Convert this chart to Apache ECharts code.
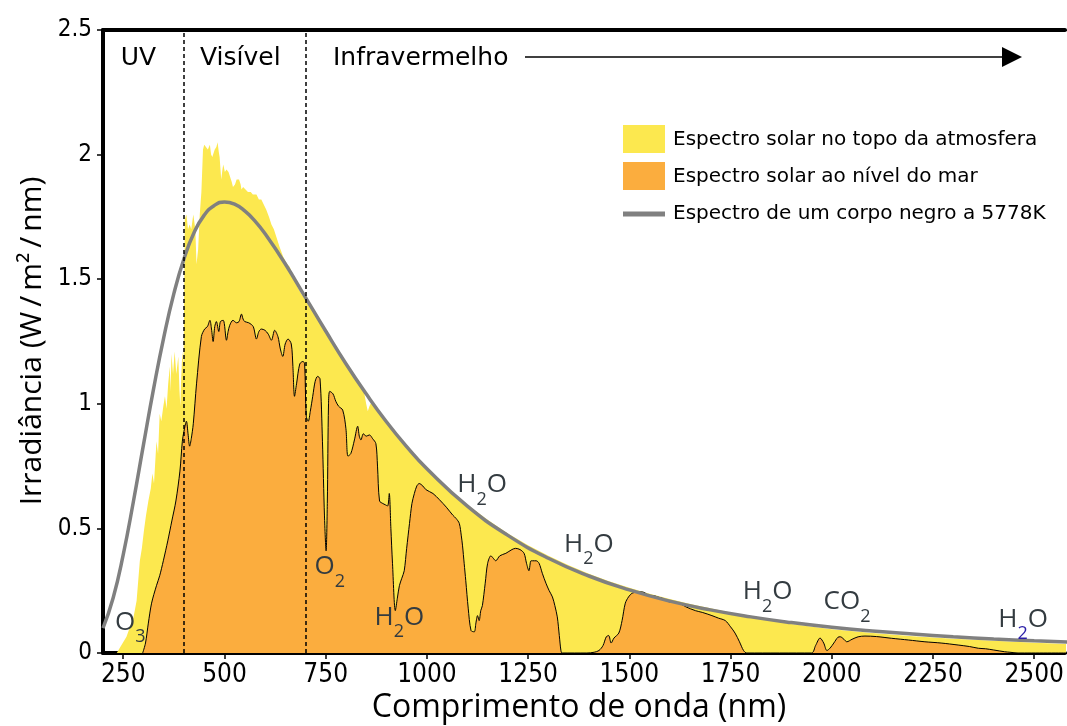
<!DOCTYPE html>
<html><head><meta charset="utf-8">
<script src="https://cdn.jsdelivr.net/npm/echarts@6/dist/echarts.min.js"></script>
<style>html,body{margin:0;padding:0;background:#fff}#c{width:1067px;height:726px}</style>
</head><body><div id="c"></div>
<script>
// ---------- data ----------
const xTicks = [250, 500, 750, 1000, 1250, 1500, 1750, 2000, 2250, 2500];
const seriesNames = ['Espectro solar no topo da atmosfera', 'Espectro solar ao nível do mar', 'Espectro de um corpo negro a 5778K'];
const regionBounds = [400, 700];
const regionNames = ['UV', 'Visível', 'Infravermelho'];

const topOfAtmosphere = [[234,0],[245,0.03],[258,0.065],[268,0.11],[275,0.14],[283,0.21],[291,0.37],[296,0.42],[301,0.49],[306,0.55],
[312,0.61],[318,0.66],[322,0.72],[326,0.68],[332,0.85],[336,0.80],[340,0.96],[344,0.93],[349,0.99],[353,1.03],
[357,0.98],[361,1.08],[365,1.15],[367,1.05],[369,1.20],[373,1.12],[377,1.21],[381,1.12],[386,1.19],[389,1.05],
[391,0.99],[393,1.10],[396,1.21],[399,1.15],[402,1.74],[406,1.76],[410,1.70],[414,1.72],[418,1.70],[423,1.76],
[428,1.70],[431,1.56],[435,1.62],[439,1.76],[443,1.85],[447,2.02],[450,2.04],[454,2.04],[459,2.02],[464,2.04],
[467,2.00],[470,1.99],[476,2.02],[480,2.03],[483,2.05],[486,2.01],[488,1.99],[492,1.90],[495,1.94],[497,1.96],
[501,1.93],[505,1.94],[510,1.93],[514,1.91],[518,1.89],[521,1.87],[526,1.88],[530,1.90],[536,1.90],[540,1.88],
[542,1.86],[546,1.87],[552,1.86],[558,1.85],[565,1.85],[570,1.84],[579,1.84],[585,1.82],[591,1.82],[597,1.80],
[603,1.78],[610,1.75],[616,1.72],[622,1.70],[628,1.67],[636,1.63],[645,1.59],[655,1.56],[661,1.55],[670,1.51],
[680,1.47],[690,1.44],[700,1.42],[725,1.36],[750,1.29],[775,1.225],[800,1.16],[825,1.10],[845,1.045],[850,1.00],
[854,0.97],[858,0.99],[864,1.01],[875,0.99],[900,0.928],[950,0.828],[1000,0.742],[1050,0.665],[1100,0.595],[1150,0.535],
[1200,0.48],[1250,0.432],[1300,0.39],[1350,0.352],[1400,0.318],[1450,0.288],[1500,0.262],[1550,0.238],[1600,0.217],[1650,0.197],
[1700,0.18],[1750,0.163],[1800,0.146],[1850,0.13],[1900,0.116],[2000,0.095],[2100,0.080],[2200,0.067],[2300,0.057],[2400,0.049],
[2500,0.041],[2580,0.036]];

const seaLevel = [[298,0],[305,0.04],[312,0.12],[320,0.20],[332,0.27],[340,0.31],[349,0.37],[360,0.45],[370,0.53],[380,0.61],
[390,0.73],[396,0.85],[400,0.89],[406,0.93],[410,0.88],[414,0.83],[418,0.86],[423,0.92],[431,1.08],[443,1.27],
[451,1.30],[458,1.31],[464,1.335],[468,1.30],[472,1.25],[476,1.31],[480,1.33],[486,1.29],[490,1.33],[497,1.335],
[505,1.255],[509,1.29],[513,1.315],[521,1.335],[530,1.325],[536,1.33],[542,1.36],[546,1.34],[550,1.33],[560,1.325],
[571,1.31],[579,1.26],[585,1.29],[591,1.30],[600,1.295],[608,1.28],[616,1.255],[624,1.295],[632,1.27],[638,1.22],
[644,1.19],[650,1.24],[657,1.26],[665,1.24],[669,1.15],[673,1.03],[678,1.08],[686,1.16],[694,1.17],[698,1.16],
[702,0.95],[707,0.93],[712,0.97],[718,1.03],[724,1.09],[730,1.11],[736,1.10],[742,0.85],[747,0.55],[751,0.41],
[754,0.60],[757,1.00],[760,1.05],[768,1.04],[775,1.01],[782,0.99],[792,0.975],[800,0.90],[805,0.79],[812,0.80],
[821,0.855],[829,0.91],[833,0.87],[837,0.855],[843,0.88],[850,0.87],[858,0.875],[866,0.86],[874,0.84],[878,0.75],
[883,0.61],[891,0.60],[897,0.595],[903,0.59],[907,0.64],[911,0.50],[915,0.36],[922,0.17],[927,0.22],[932,0.27],
[938,0.30],[944,0.33],[950,0.42],[957,0.52],[963,0.60],[969,0.64],[975,0.67],[981,0.68],[990,0.67],[998,0.655],
[1015,0.64],[1031,0.615],[1048,0.585],[1064,0.553],[1072,0.54],[1080,0.52],[1085,0.47],[1088,0.43],[1092,0.36],[1096,0.29],
[1102,0.18],[1109,0.09],[1117,0.085],[1121,0.12],[1125,0.15],[1129,0.13],[1133,0.17],[1137,0.19],[1144,0.28],[1150,0.36],
[1158,0.39],[1164,0.38],[1170,0.37],[1180,0.39],[1195,0.40],[1210,0.415],[1219,0.42],[1230,0.415],[1240,0.40],[1246,0.36],
[1252,0.33],[1257,0.37],[1261,0.37],[1270,0.37],[1277,0.36],[1285,0.32],[1294,0.28],[1302,0.25],[1310,0.225],[1316,0.19],
[1322,0.145],[1327,0.07],[1331,0.01],[1334,0],[1395,0],[1413,0.003],[1425,0.01],[1435,0.03],[1443,0.065],[1449,0.07],
[1455,0.04],[1462,0.06],[1474,0.08],[1482,0.13],[1490,0.20],[1498,0.225],[1507,0.24],[1520,0.245],[1532,0.245],[1540,0.24],
[1545,0.232],[1556,0.23],[1565,0.228],[1575,0.222],[1581,0.22],[1590,0.21],[1600,0.205],[1622,0.20],[1640,0.185],[1663,0.17],
[1680,0.163],[1704,0.15],[1720,0.14],[1737,0.13],[1750,0.105],[1761,0.08],[1772,0.045],[1782,0.01],[1790,0],[1950,0],
[1960,0.03],[1971,0.06],[1980,0.04],[1988,0.01],[1996,0.02],[2005,0.04],[2015,0.063],[2021,0.065],[2030,0.055],[2037,0.045],
[2050,0.055],[2065,0.065],[2082,0.068],[2110,0.066],[2148,0.059],[2190,0.052],[2230,0.045],[2270,0.04],[2312,0.032],[2340,0.026],
[2362,0.019],[2380,0.017],[2400,0.012],[2427,0.005],[2440,0.003],[2460,0],[2580,0]];

const blackBody = [[200,0.100],[225,0.221],[250,0.395],[275,0.607],[300,0.836],[325,1.061],[350,1.266],[375,1.442],[400,1.582],[425,1.687],
[450,1.757],[475,1.796],[500,1.810],[525,1.801],[550,1.774],[575,1.734],[600,1.683],[650,1.562],[700,1.427],[750,1.292],
[800,1.161],[850,1.040],[900,0.928],[950,0.828],[1000,0.739],[1100,0.589],[1200,0.472],[1300,0.380],[1400,0.309],[1500,0.253],
[1600,0.208],[1700,0.173],[1800,0.145],[1900,0.122],[2000,0.103],[2100,0.088],[2200,0.076],[2300,0.065],[2400,0.056],[2500,0.049],[2600,0.043]];

// absorption labels: [prefix, subscript, suffix, wavelength, irradiance at cap top, blue subscript]
const molecules = [
  ['O','3','',229.6,0.152,false],
  ['O','2','',722.6,0.373,false],
  ['H','2','O',870.5,0.172,false],
  ['H','2','O',1075,0.702,false],
  ['H','2','O',1338.8,0.465,false],
  ['H','2','O',1780,0.273,false],
  ['CO','2','',1979.6,0.233,false],
  ['H','2','O',2411,0.164,true]
];

// ---------- chart ----------
const TICKFONT = "'DejaVu Sans Condensed', 'DejaVu Sans', sans-serif";
const chart = echarts.init(document.getElementById('c'), null, {renderer: 'canvas'});
chart.setOption({
  animation: false,
  backgroundColor: '#ffffff',
  grid: {left: 103, right: 0, top: 30, bottom: 73},
  xAxis: [
    {
      type: 'value', min: 200, max: 2576, position: 'bottom', splitLine: {show: false},
      axisLine: {show: true, onZero: false, lineStyle: {color: '#000', width: 4}},
      axisTick: {show: true, customValues: xTicks, length: 6, lineStyle: {color: '#000', width: 1.5}},
      axisLabel: {customValues: xTicks, margin: 9, color: '#000', fontSize: 26, fontFamily: TICKFONT,
                  formatter: v => String(v)}
    },
    {
      type: 'value', min: 200, max: 2576, position: 'top', splitLine: {show: false},
      axisLine: {show: true, onZero: false, lineStyle: {color: '#000', width: 4}},
      axisTick: {show: false}, axisLabel: {show: false}
    }
  ],
  yAxis: {
    type: 'value', min: 0, max: 2.5, interval: 0.5, splitLine: {show: false},
    axisLine: {show: true, lineStyle: {color: '#000', width: 4}},
    axisTick: {show: true, length: 6, lineStyle: {color: '#000', width: 1.5}},
    axisLabel: {margin: 11, color: '#000', fontSize: 24, fontFamily: TICKFONT, formatter: v => String(v)}
  },
  series: [
    {name: seriesNames[0], type: 'line', data: topOfAtmosphere, symbol: 'none', silent: true, z: 1,
     lineStyle: {opacity: 0, width: 0}, areaStyle: {color: '#FCE84F', opacity: 1}},
    {name: seriesNames[1], type: 'line', data: seaLevel, symbol: 'none', silent: true, z: 2, smooth: 0.3,
     lineStyle: {color: '#000', width: 1}, areaStyle: {color: '#FBAD3E', opacity: 1}},
    {name: seriesNames[2], type: 'line', data: blackBody, symbol: 'none', silent: true, z: 4, smooth: true,
     lineStyle: {color: '#808080', width: 3.5},
     markLine: {silent: true, symbol: ['none', 'none'], label: {show: false},
       lineStyle: {color: '#000', type: [4, 3], width: 1.5},
       data: regionBounds.map(v => ({xAxis: v}))}}
  ]
});

// ---------- annotations ----------
const LABELFONT = "'Open Sans', 'Noto Sans', sans-serif";
const molRich = {
  m: {fontSize: 26, fontFamily: LABELFONT, fill: '#333b40', lineHeight: 30, verticalAlign: 'top'},
  s: {fontSize: 18, fontFamily: LABELFONT, fill: '#333b40', lineHeight: 18, padding: [19, 0, 0, 0], verticalAlign: 'top'},
  b: {fontSize: 18, fontFamily: LABELFONT, fill: '#2b1fa8', lineHeight: 18, padding: [19, 0, 0, 0], verticalAlign: 'top'}
};
const graphics = [];
molecules.forEach(m => {
  const p = chart.convertToPixel({xAxisIndex: 0, yAxisIndex: 0}, [m[3], m[4]]);
  let t = '{m|' + m[0] + '}{' + (m[5] ? 'b' : 's') + '|' + m[1] + '}';
  if (m[2]) t += '{m|' + m[2] + '}';
  graphics.push({type: 'text', x: p[0], y: p[1] - 6, z: 20, silent: true,
    style: {text: t, rich: molRich, align: 'left', verticalAlign: 'top'}});
});
// region labels
const REGFONT = "'DejaVu Sans', sans-serif";
graphics.push({type: 'text', x: 138.5, y: 58, z: 20, style: {text: regionNames[0], fontSize: 25, fontFamily: REGFONT, fill: '#000', align: 'center', verticalAlign: 'middle'}});
graphics.push({type: 'text', x: 200, y: 58, z: 20, style: {text: regionNames[1], fontSize: 25, fontFamily: REGFONT, fill: '#000', align: 'left', verticalAlign: 'middle'}});
graphics.push({type: 'text', x: 333, y: 58, z: 20, style: {text: regionNames[2], fontSize: 25, fontFamily: REGFONT, fill: '#000', align: 'left', verticalAlign: 'middle'}});
// arrow
graphics.push({type: 'line', z: 20, shape: {x1: 525, y1: 57, x2: 1006, y2: 57}, style: {stroke: '#000', lineWidth: 1.5}});
graphics.push({type: 'polygon', z: 20, shape: {points: [[1002, 47], [1022, 57], [1002, 67]]}, style: {fill: '#000'}});
// legend
graphics.push({type: 'rect', z: 20, shape: {x: 623, y: 125, width: 42, height: 28}, style: {fill: '#FCE84F'}});
graphics.push({type: 'rect', z: 20, shape: {x: 623, y: 162, width: 42, height: 28}, style: {fill: '#FBAD3E'}});
graphics.push({type: 'rect', z: 20, shape: {x: 623, y: 211.5, width: 42, height: 5}, style: {fill: '#808080'}});
[140, 177, 214].forEach((yy, i) => {
  graphics.push({type: 'text', x: 673, y: yy, z: 20, style: {text: seriesNames[i], fontSize: 20, fontFamily: REGFONT, fill: '#000', align: 'left', verticalAlign: 'middle'}});
});
// axis titles
graphics.push({type: 'text', x: 579, y: 708, z: 20, style: {text: 'Comprimento de onda (nm)', fontSize: 32, fontFamily: LABELFONT, fill: '#000', align: 'center', verticalAlign: 'middle'}});
graphics.push({type: 'text', x: 32, y: 341, z: 20, rotation: Math.PI / 2, style: {text: 'Irradiância (W\u2009/\u2009m²\u2009/\u2009nm)', fontSize: 30, fontFamily: LABELFONT, fill: '#000', align: 'center', verticalAlign: 'middle'}});

chart.setOption({graphic: graphics});
</script>
</body></html>
